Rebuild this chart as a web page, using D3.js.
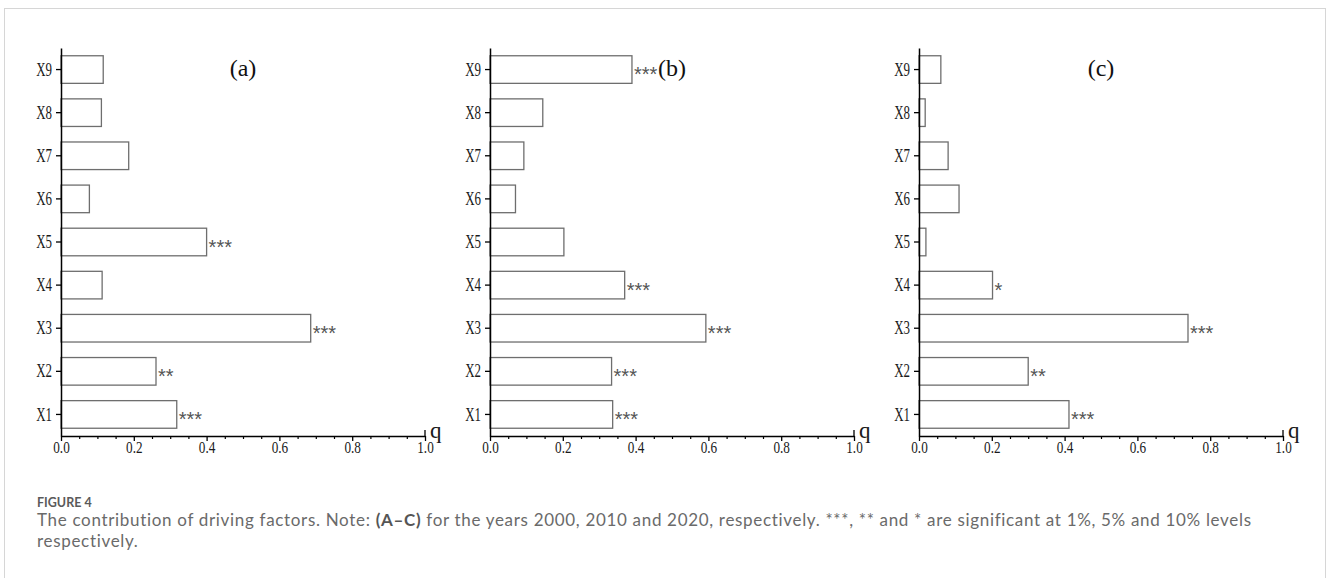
<!DOCTYPE html>
<html>
<head>
<meta charset="utf-8">
<script src="https://cdn.jsdelivr.net/npm/d3@7"></script>
<style>
  body { margin: 0; background: #fff; }
  svg { display: block; }
</style>
</head>
<body>
<svg id="chart" width="1328" height="578"></svg>
<script>
// factor names, bottom to top
var factors = ["X1", "X2", "X3", "X4", "X5", "X6", "X7", "X8", "X9"];

// q values
var q2000 = [0.318, 0.261, 0.686, 0.113, 0.400, 0.078, 0.186, 0.111, 0.116];
var q2010 = [0.337, 0.334, 0.593, 0.370, 0.203, 0.070, 0.093, 0.145, 0.390];
var q2020 = [0.412, 0.300, 0.739, 0.202, 0.019, 0.110, 0.080, 0.017, 0.060];

// significance marks
var sig2000 = ["***", "**", "***", "", "***", "", "", "", ""];
var sig2010 = ["***", "***", "***", "***", "", "", "", "", "***"];
var sig2020 = ["***", "**", "***", "*", "", "", "", "", ""];

var panelNames = ["(a)", "(b)", "(c)"];
var majorTicks = [0, 0.2, 0.4, 0.6, 0.8, 1.0];
var minorTicks = [0.05, 0.1, 0.15, 0.25, 0.3, 0.35, 0.45, 0.5, 0.55, 0.65, 0.7, 0.75, 0.85, 0.9, 0.95];

var svg = d3.select("#chart");
var serif = "'Liberation Serif', 'Times New Roman', serif";

// frame round the figure
svg.append("rect")
    .attr("x", 4.5).attr("y", 8.5)
    .attr("width", 1321).attr("height", 600)
    .attr("fill", "none")
    .attr("stroke", "#d6d6d6")
    .attr("stroke-width", 1);

var panelLeft = [61, 490, 919];
var panelWidth = 364;
var plotTop = 48, plotBottom = 436;

function drawPanel(i, values, marks) {
  var x0 = panelLeft[i];
  var g = svg.append("g").attr("id", "panel_" + i);

  var x = d3.scaleLinear().domain([0, 1]).range([x0, x0 + panelWidth]);
  var y = d3.scaleBand().domain(factors.slice().reverse())
            .range([plotTop, plotBottom])
            .paddingInner(0.36).paddingOuter(0.18);

  var data = factors.map(function(f, k) {
    return { name: f, q: values[k], sig: marks[k] };
  });

  // bars
  g.selectAll("rect.bar")
      .data(data)
      .enter().append("rect")
      .attr("class", "bar")
      .attr("x", x(0))
      .attr("y", function(d) { return y(d.name); })
      .attr("width", function(d) { return x(d.q) - x(0); })
      .attr("height", y.bandwidth())
      .attr("fill", "#fff")
      .attr("stroke", "#6e6e6e")
      .attr("stroke-width", 1.3);

  // stars
  g.selectAll("text.sig")
      .data(data.filter(function(d) { return d.sig !== ""; }))
      .enter().append("text")
      .attr("class", "sig")
      .attr("x", function(d) { return x(d.q) + 2; })
      .attr("y", function(d) { return y(d.name) + y.bandwidth() / 2 + 11.5; })
      .attr("font-family", "'Liberation Sans', Arial, sans-serif")
      .attr("font-size", 20)
      .attr("fill", "#555")
      .text(function(d) { return d.sig; });

  // x axis, major ticks
  var xAxis = g.append("g")
      .attr("transform", "translate(0," + plotBottom + ")")
      .call(d3.axisBottom(x).tickValues(majorTicks).tickSize(5).tickSizeOuter(0)
              .tickFormat(d3.format(".1f")));
  xAxis.select(".domain").attr("stroke-width", 1.5);
  xAxis.selectAll(".tick line").attr("stroke-width", 1.3);
  xAxis.selectAll(".tick text")
      .attr("font-family", serif)
      .attr("font-size", 16.5)
      .attr("fill", "#1a1a1a")
      .attr("y", 17.5)
      .attr("dy", 0)
      .attr("transform", "scale(0.8,1)");

  // minor ticks
  var minor = g.append("g")
      .attr("transform", "translate(0," + plotBottom + ")")
      .call(d3.axisBottom(x).tickValues(minorTicks).tickSize(3).tickFormat(""));
  minor.select(".domain").remove();
  minor.selectAll(".tick line").attr("stroke-width", 1.2);

  // little upward tick at the end
  g.append("line")
      .attr("x1", x(1)).attr("x2", x(1))
      .attr("y1", plotBottom).attr("y2", plotBottom - 6)
      .attr("stroke", "#000").attr("stroke-width", 1.3);

  g.append("text")
      .attr("x", x(1) + 5)
      .attr("y", plotBottom + 2)
      .attr("font-family", serif)
      .attr("font-size", 23)
      .attr("fill", "#1a1a1a")
      .text("q");

  // y axis
  var yAxis = g.append("g")
      .attr("transform", "translate(" + x0 + ",0)")
      .call(d3.axisLeft(y).tickSize(5).tickSizeOuter(0));
  yAxis.select(".domain").attr("stroke-width", 1.5);
  yAxis.selectAll(".tick line").attr("stroke-width", 1.3);
  yAxis.selectAll(".tick text")
      .attr("font-family", serif)
      .attr("font-size", 18)
      .attr("fill", "#1a1a1a")
      .attr("x", -9 / 0.72)
      .attr("dy", "0.34em")
      .attr("transform", "scale(0.72,1)");

  // panel name
  g.append("text")
      .attr("x", x0 + 182)
      .attr("y", 76)
      .attr("text-anchor", "middle")
      .attr("font-family", serif)
      .attr("font-size", 24)
      .attr("fill", "#111")
      .text(panelNames[i]);
}

drawPanel(0, q2000, sig2000);
drawPanel(1, q2010, sig2010);
drawPanel(2, q2020, sig2020);

// -------- caption --------
var capFont = "Lato, 'Open Sans', sans-serif";

svg.append("text")
    .attr("x", 37).attr("y", 507)
    .attr("font-family", capFont)
    .attr("font-size", 12.5)
    .attr("font-weight", 700)
    .attr("fill", "#5a5a5a")
    .text("FIGURE 4");

var line1 = svg.append("text")
    .attr("x", 37).attr("y", 526)
    .attr("font-family", capFont)
    .attr("font-size", 17)
    .attr("fill", "#6a6a6a");
line1.append("tspan").text("The contribution of driving factors. Note: ");
line1.append("tspan").attr("font-weight", 700).attr("fill", "#555").text("(A\u2013C)");
line1.append("tspan").text(" for the years 2000, 2010 and 2020, respectively. ***, ** and * are significant at 1%, 5% and 10% levels");

// stretch letter spacing so the line ends where the original does
var natural = line1.node().getComputedTextLength();
var nChars = line1.text().length;
var spacing = (1215 - natural) / nChars;
line1.attr("letter-spacing", spacing + "px");

svg.append("text")
    .attr("x", 37).attr("y", 547)
    .attr("font-family", capFont)
    .attr("font-size", 17)
    .attr("fill", "#6a6a6a")
    .attr("letter-spacing", spacing + "px")
    .text("respectively.");
</script>
</body>
</html>
